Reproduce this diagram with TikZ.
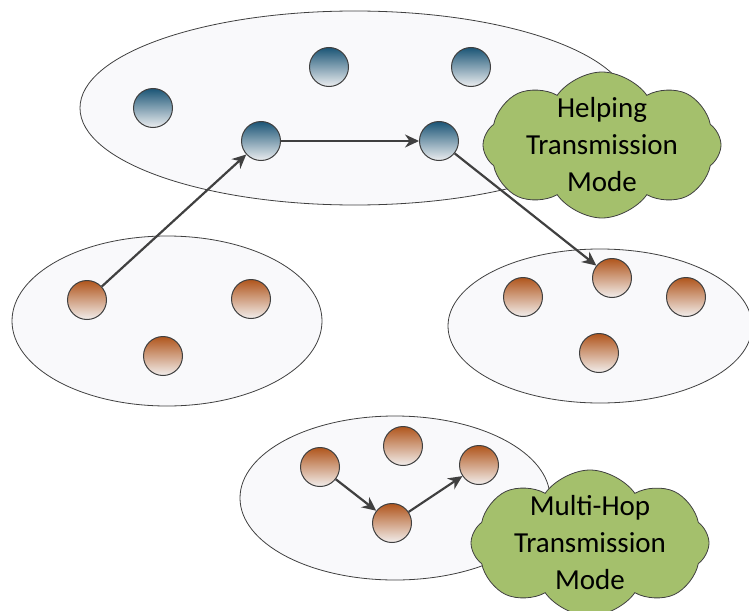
\documentclass[tikz,border=0pt]{standalone}
\usepackage{fontspec}
\setmainfont{Carlito}
\usetikzlibrary{shapes.symbols,arrows.meta}
\definecolor{bluetop}{HTML}{1B5576}
\definecolor{bluebot}{HTML}{ECEEF0}
\definecolor{orgtop}{HTML}{B0551C}
\definecolor{orgbot}{HTML}{F2EEEC}
\definecolor{cloudgreen}{HTML}{A4C06C}
\definecolor{edgegray}{HTML}{404040}
\definecolor{ellfill}{HTML}{F9F9FB}
\tikzset{
  grp/.style={draw=edgegray,line width=0.8pt,fill=ellfill},
  bnode/.style={circle,draw=edgegray,line width=1pt,minimum size=39pt,inner sep=0pt,top color=bluetop,bottom color=bluebot},
  onode/.style={circle,draw=edgegray,line width=1pt,minimum size=39pt,inner sep=0pt,top color=orgtop,bottom color=orgbot},
  link/.style={draw=edgegray,line width=2.2pt,-{Stealth[length=14pt,width=13pt]}},
  cloudbox/.style={cloud,cloud puffs=8,cloud puff arc=110,cloud ignores aspect,draw=edgegray,line width=0.8pt,fill=cloudgreen,
    minimum width=238pt,minimum height=146pt,inner sep=0pt},
  cloudtext/.style={align=center,font=\fontsize{29}{37}\selectfont,inner sep=0pt}
}
\begin{document}
\begin{tikzpicture}[x=1pt,y=-1pt]
\useasboundingbox (0,0) rectangle (749,610);
% groups
\draw[grp] (355,108) ellipse [x radius=275,y radius=97];
\draw[grp] (167,321) ellipse [x radius=155,y radius=85];
\draw[grp] (600,326) ellipse [x radius=152,y radius=77];
\draw[grp] (395,498) ellipse [x radius=155,y radius=82];
% blue nodes
\node[bnode] (b1) at (153,108) {};
\node[bnode] (b2) at (329,67) {};
\node[bnode] (b3) at (471,67) {};
\node[bnode] (b4) at (261,141) {};
\node[bnode] (b5) at (439,141) {};
% left group
\node[onode] (l1) at (87,300) {};
\node[onode] (l2) at (251,299) {};
\node[onode] (l3) at (163,356) {};
% right group
\node[onode] (r1) at (523,297) {};
\node[onode] (r2) at (612,278) {};
\node[onode] (r3) at (686,297) {};
\node[onode] (r4) at (599,353) {};
% bottom group
\node[onode] (m1) at (403,446) {};
\node[onode] (m2) at (320,467) {};
\node[onode] (m3) at (479,465) {};
\node[onode] (m4) at (392,523) {};
% links
\draw[link] (l1) -- (b4);
\draw[link] (b4) -- (b5);
\draw[link] (b5) -- (r2);
\draw[link] (m2) -- (m4);
\draw[link] (m4) -- (m3);
% clouds
\node[cloudbox] (c1) at (602,145) {};
\node[cloudtext] (t1) at (c1.center) {Helping\\Transmission\\Mode};
\node[cloudbox] (c2) at (590,543) {};
\node[cloudtext] (t2) at (c2.center) {Multi-Hop\\Transmission\\Mode};
\end{tikzpicture}
\end{document}
